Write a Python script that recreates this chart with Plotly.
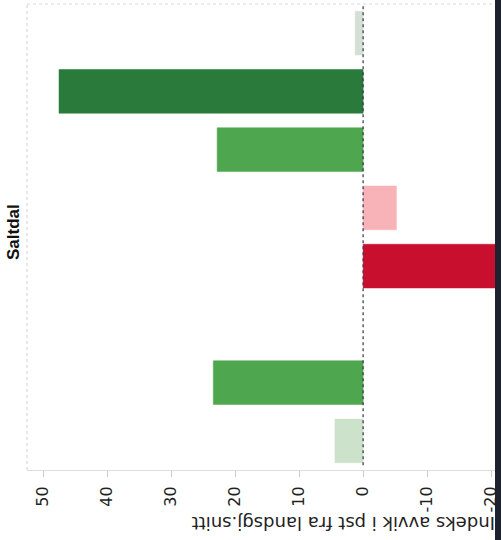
import plotly.graph_objects as go

# Categories in original (un-rotated) order: first drawn at the bottom
categories = ["K1", "K2", "K3", "K4", "K5", "K6", "K7", "K8"]
values = [4.4, 23.4, None, -25.0, -5.2, 22.8, 47.5, 1.25]
bar_colors = ["#cde2ca", "#4ea64e", "#ffffff", "#c8102e", "#f8b3b8",
              "#4ea64e", "#2a7b3b", "#d4dfd6"]
tick_vals = [50, 40, 30, 20, 10, 0, -10, -20]
tick_text = ["50", "40", "30", "20", "10", "0", "-10", "-20"]
title_text = "Saltdal"
axis_title = "Indeks avvik i pst fra landsgj.snitt"

W, H = 502, 540
L, R, T, B = 27, 7, 4, 70

fig = go.Figure()
fig.add_trace(go.Bar(
    y=categories, x=values, orientation="h",
    marker=dict(color=bar_colors, line=dict(color=bar_colors, width=0.5)),
    width=0.75, hoverinfo="x+y",
))

pw = W - L - R
ph = H - T - B

def px_x(p):
    return (p - L) / pw

def px_y(p):
    return (H - B - p) / ph

fig.update_layout(
    width=W, height=H,
    margin=dict(l=L, r=R, t=T, b=B, autoexpand=False),
    plot_bgcolor="white", paper_bgcolor="white",
    showlegend=False,
    font=dict(family="DejaVu Sans, Verdana, sans-serif", color="#222222"),
    xaxis=dict(
        range=[52.5, -20.6],
        tickmode="array", tickvals=tick_vals, ticktext=tick_text,
        tickangle=-90, tickfont=dict(size=16, color="#222222"),
        ticks="outside", ticklen=6, tickcolor="#cccccc",
        ticklabelstandoff=3,
        showgrid=False, zeroline=False, automargin=False,
        showline=True, linecolor="#dddddd", linewidth=1,
    ),
    yaxis=dict(
        categoryorder="array", categoryarray=categories,
        showticklabels=False, showgrid=False, zeroline=False,
        showline=False, range=[-0.5, 7.5],
    ),
    shapes=[
        # faint frame lines (left and top)
        dict(type="line", xref="paper", yref="paper", x0=0, x1=0, y0=0, y1=1,
             line=dict(color="#d0d0d0", width=1, dash="dot")),
        dict(type="line", xref="paper", yref="paper", x0=0, x1=1, y0=1, y1=1,
             line=dict(color="#d8d8d8", width=1, dash="dot")),
        # zero line
        dict(type="line", xref="x", yref="paper", x0=0, x1=0, y0=0.01, y1=0.995,
             line=dict(color="#333344", width=1.2, dash="dot")),
        # dark border on the right edge
        dict(type="line", xref="paper", yref="paper",
             x0=px_x(498), x1=px_x(498), y0=px_y(545), y1=px_y(-5),
             line=dict(color="#1c2230", width=6), layer="above"),
    ],
    annotations=[
        dict(text="<b>" + title_text + "</b>", textangle=-90,
             xref="paper", yref="paper", x=px_x(13), y=px_y(232),
             xanchor="center", yanchor="middle", showarrow=False,
             font=dict(family="Liberation Sans, Arial, sans-serif", size=17, color="#111111")),
        dict(text=axis_title, textangle=180,
             xref="paper", yref="paper", x=px_x(344), y=px_y(524),
             xanchor="center", yanchor="middle", showarrow=False,
             font=dict(size=18, color="#222222")),
    ],
)

fig.write_html("out.html",
               config={"displayModeBar": False},
               post_script="document.body.style.margin='0';document.body.style.overflow='hidden';")
